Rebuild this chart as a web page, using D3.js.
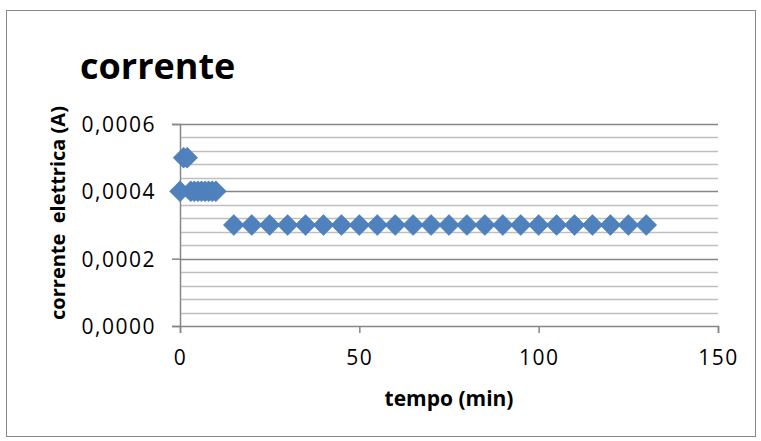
<!DOCTYPE html>
<html>
<head>
<meta charset="utf-8">
<script src="https://cdn.jsdelivr.net/npm/d3@7"></script>
<style>
  body { margin: 0; background: #fff; }
  text { font-family: "Open Sans", sans-serif; fill: #000; }
</style>
</head>
<body>
<svg class="canvas"></svg>
<script>
// data
var tempo = [0, 1, 2, 3, 4, 5, 6, 7, 8, 9, 10,
  15, 20, 25, 30, 35, 40, 45, 50, 55, 60, 65, 70, 75, 80, 85, 90, 95, 100,
  105, 110, 115, 120, 125, 130];
var corrente = [0.0004, 0.0005, 0.0005, 0.0004, 0.0004, 0.0004, 0.0004, 0.0004, 0.0004, 0.0004, 0.0004,
  0.0003, 0.0003, 0.0003, 0.0003, 0.0003, 0.0003, 0.0003, 0.0003, 0.0003, 0.0003, 0.0003, 0.0003,
  0.0003, 0.0003, 0.0003, 0.0003, 0.0003, 0.0003, 0.0003, 0.0003, 0.0003, 0.0003, 0.0003, 0.0003];
var xTicks = [0, 50, 100, 150];
var yTicks = [0, 0.0002, 0.0004, 0.0006];
var yMinor = [0.00004, 0.00008, 0.00012, 0.00016, 0.00024, 0.00028, 0.00032, 0.00036,
  0.00044, 0.00048, 0.00052, 0.00056];

var width = 761, height = 441;
var plotLeft = 180, plotRight = 718, plotTop = 124, plotBottom = 326;

var x = d3.scaleLinear().domain([0, 150]).range([plotLeft, plotRight]);
var y = d3.scaleLinear().domain([0, 0.0006]).range([plotBottom, plotTop]);

var svg = d3.select(".canvas").attr("width", width).attr("height", height);

// chart border
svg.append("rect")
  .attr("x", 6.5).attr("y", 10.5)
  .attr("width", 749).attr("height", 426)
  .attr("fill", "#fff").attr("stroke", "#888").attr("stroke-width", 1);

// minor gridlines
svg.append("g").selectAll("line").data(yMinor).enter().append("line")
  .attr("x1", plotLeft).attr("x2", plotRight)
  .attr("y1", function(d) { return Math.round(y(d)) + 0.5; })
  .attr("y2", function(d) { return Math.round(y(d)) + 0.5; })
  .attr("stroke", "#bfbfbf").attr("stroke-width", 1.5);

// major gridlines
svg.append("g").selectAll("line").data(yTicks.slice(1)).enter().append("line")
  .attr("x1", plotLeft).attr("x2", plotRight)
  .attr("y1", function(d) { return Math.round(y(d)) + 0.5; })
  .attr("y2", function(d) { return Math.round(y(d)) + 0.5; })
  .attr("stroke", "#868686").attr("stroke-width", 1.5);

var fmt = function(d) { return d3.format(".4f")(d).replace(".", ","); };

var yAxis = d3.axisLeft(y).tickValues(yTicks).tickSize(8).tickPadding(16).tickFormat(fmt);
var xAxis = d3.axisBottom(x).tickValues(xTicks).tickSize(7).tickPadding(17).tickFormat(d3.format("d"));

var gy = svg.append("g").attr("transform", "translate(" + plotLeft + ",0)").call(yAxis);
var gx = svg.append("g").attr("transform", "translate(0," + plotBottom + ")").call(xAxis);

[gx, gy].forEach(function(g) {
  g.select(".domain").attr("stroke", "#868686").attr("stroke-width", 1.5);
  g.selectAll(".tick line").attr("stroke", "#868686").attr("stroke-width", 1.5);
  g.selectAll(".tick text")
    .style("font-family", "'Open Sans', sans-serif")
    .style("font-size", "21px")
    .style("letter-spacing", "1.5px")
    .attr("fill", "#000");
});
gy.selectAll(".tick text").attr("dy", "0.36em");

// markers
svg.append("g").selectAll("path")
  .data(tempo).enter().append("path")
  .attr("d", d3.symbol(d3.symbolSquare, 220))
  .attr("transform", function(d, i) {
    return "translate(" + x(d) + "," + y(corrente[i]) + ") rotate(45)";
  })
  .attr("fill", "#4f81bd")
  .attr("stroke", "#4a7ebb")
  .attr("stroke-width", 0.5);

// title
svg.append("text")
  .attr("x", 80).attr("y", 79)
  .style("font-size", "36px").style("font-weight", "bold")
  .text("corrente");

// axis titles
svg.append("text")
  .attr("x", (plotLeft + plotRight) / 2).attr("y", 406)
  .attr("text-anchor", "middle")
  .style("font-size", "21px").style("font-weight", "bold")
  .text("tempo (min)");

svg.append("text")
  .attr("transform", "translate(65,213) rotate(-90)")
  .attr("text-anchor", "middle")
  .style("font-size", "20px").style("font-weight", "bold")
  .style("white-space", "pre")
  .text("corrente  elettrica (A)");
</script>
</body>
</html>
